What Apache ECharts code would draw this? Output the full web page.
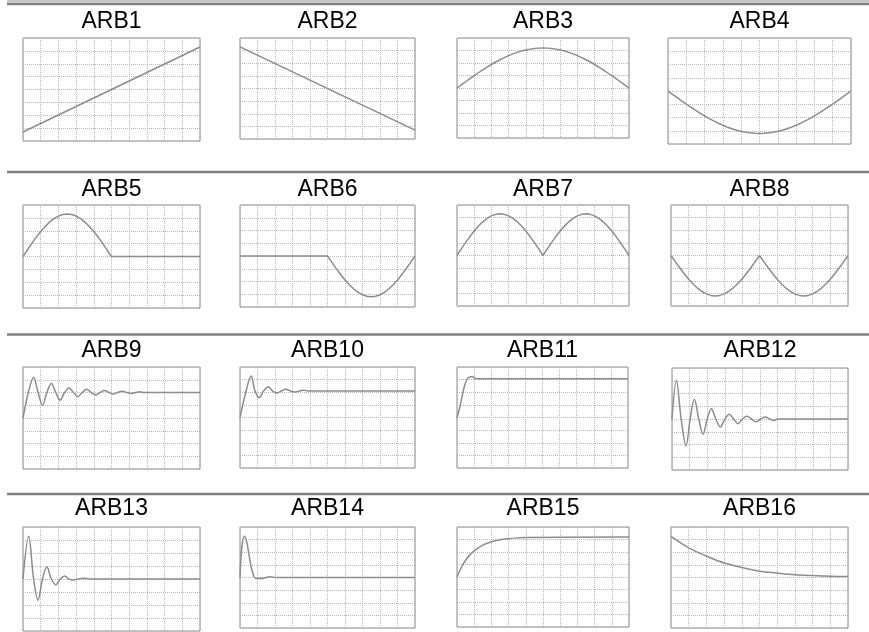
<!DOCTYPE html>
<html>
<head>
<meta charset="utf-8">
<script src="https://cdn.jsdelivr.net/npm/echarts@6/dist/echarts.min.js"></script>
<style>
  html, body { margin: 0; padding: 0; background: #fff; }
  #main { width: 869px; height: 632px; }
</style>
</head>
<body>
<div id="main"></div>
<script>
// waveform names, in table order
const names = ['ARB1', 'ARB2', 'ARB3', 'ARB4', 'ARB5', 'ARB6', 'ARB7', 'ARB8',
  'ARB9', 'ARB10', 'ARB11', 'ARB12', 'ARB13', 'ARB14', 'ARB15', 'ARB16'];

// x in grid divisions (0..10), y in divisions (-4..4)
const xRamp = [0, 10];
const arb1 = [-3.3, 3.3];
const arb2 = [3.3, -3.3];

const xQuarter = [0, 0.25, 0.5, 0.75, 1, 1.25, 1.5, 1.75, 2, 2.25, 2.5, 2.75, 3, 3.25, 3.5, 3.75, 4, 4.25, 4.5, 4.75,
  5, 5.25, 5.5, 5.75, 6, 6.25, 6.5, 6.75, 7, 7.25, 7.5, 7.75, 8, 8.25, 8.5, 8.75, 9, 9.25, 9.5, 9.75, 10];
const arb3 = [0, 0.25, 0.50, 0.75, 0.99, 1.22, 1.45, 1.67, 1.88, 2.08, 2.26, 2.43, 2.59, 2.73, 2.85, 2.96, 3.04, 3.11, 3.16, 3.19,
  3.20, 3.19, 3.16, 3.11, 3.04, 2.96, 2.85, 2.73, 2.59, 2.43, 2.26, 2.08, 1.88, 1.67, 1.45, 1.22, 0.99, 0.75, 0.50, 0.25, 0];
const arb4 = [0, -0.25, -0.50, -0.75, -0.99, -1.22, -1.45, -1.67, -1.88, -2.08, -2.26, -2.43, -2.59, -2.73, -2.85, -2.96, -3.04, -3.11, -3.16, -3.19,
  -3.20, -3.19, -3.16, -3.11, -3.04, -2.96, -2.85, -2.73, -2.59, -2.43, -2.26, -2.08, -1.88, -1.67, -1.45, -1.22, -0.99, -0.75, -0.50, -0.25, 0];
const arb5 = [0, 0.52, 1.02, 1.50, 1.94, 2.33, 2.67, 2.94, 3.14, 3.26, 3.30, 3.26, 3.14, 2.94, 2.67, 2.33, 1.94, 1.50, 1.02, 0.52,
  0, 0, 0, 0, 0, 0, 0, 0, 0, 0, 0, 0, 0, 0, 0, 0, 0, 0, 0, 0, 0];
const arb6 = [0, 0, 0, 0, 0, 0, 0, 0, 0, 0, 0, 0, 0, 0, 0, 0, 0, 0, 0, 0,
  0, -0.50, -0.99, -1.45, -1.88, -2.26, -2.59, -2.85, -3.04, -3.16, -3.20, -3.16, -3.04, -2.85, -2.59, -2.26, -1.88, -1.45, -0.99, -0.50, 0];
const arb7 = [0, 0.52, 1.02, 1.50, 1.94, 2.33, 2.67, 2.94, 3.14, 3.26, 3.30, 3.26, 3.14, 2.94, 2.67, 2.33, 1.94, 1.50, 1.02, 0.52,
  0, 0.52, 1.02, 1.50, 1.94, 2.33, 2.67, 2.94, 3.14, 3.26, 3.30, 3.26, 3.14, 2.94, 2.67, 2.33, 1.94, 1.50, 1.02, 0.52, 0];
const arb8 = [0, -0.50, -0.99, -1.45, -1.88, -2.26, -2.59, -2.85, -3.04, -3.16, -3.20, -3.16, -3.04, -2.85, -2.59, -2.26, -1.88, -1.45, -0.99, -0.50,
  0, -0.50, -0.99, -1.45, -1.88, -2.26, -2.59, -2.85, -3.04, -3.16, -3.20, -3.16, -3.04, -2.85, -2.59, -2.26, -1.88, -1.45, -0.99, -0.50, 0];

const arb9X = [0, 0.3, 0.6, 0.85, 1.1, 1.35, 1.6, 1.85, 2.1, 2.35, 2.6, 2.85, 3.1, 3.35, 3.6, 3.85, 4.1, 4.35, 4.6, 4.85,
  5.1, 5.35, 5.6, 5.85, 6.1, 6.35, 6.6, 6.85, 10];
const arb9Y = [0, 2.0, 3.2, 2.0, 1.0, 2.0, 2.7, 2.0, 1.4, 2.0, 2.35, 2.0, 1.68, 2.0, 2.25, 2.0, 1.8, 2.0, 2.15, 2.0,
  1.88, 2.0, 2.1, 2.0, 1.93, 2.0, 2.05, 2.0, 2.0];
const arb10X = [0, 0.35, 0.63, 0.86, 1.09, 1.35, 1.62, 1.86, 2.1, 2.36, 2.63, 2.88, 3.12, 3.38, 3.63, 3.9, 10];
const arb10Y = [0, 2.1, 3.28, 2.1, 1.57, 2.1, 2.44, 2.1, 1.93, 2.1, 2.24, 2.1, 2.02, 2.1, 2.16, 2.1, 2.1];
const arb11X = [0, 0.12, 0.25, 0.45, 0.64, 0.9, 1.13, 10];
const arb11Y = [0, 0.57, 1.36, 2.55, 3.13, 3.24, 3.07, 3.07];
const arb12X = [0, 0.25, 0.52, 0.8, 1.03, 1.27, 1.52, 1.76, 2.0, 2.23, 2.49, 2.75, 3.0, 3.26, 3.5, 3.75, 4.0, 4.26, 4.52, 4.77,
  5.03, 5.3, 5.55, 5.78, 6.0, 10];
const arb12Y = [0, 3.03, 0, -2.12, 0, 1.54, 0, -1.2, 0, 0.81, 0, -0.63, 0, 0.37, 0, -0.37, 0, 0.21, 0, -0.22,
  0, 0.16, 0, -0.12, 0, 0];
const arb13X = [0, 0.32, 0.6, 0.85, 1.1, 1.35, 1.6, 1.86, 2.1, 2.35, 2.58, 2.82, 3.1, 3.4, 3.8, 10];
const arb13Y = [0, 3.28, 0, -1.64, 0, 0.92, 0, -0.44, 0, 0.23, 0, -0.08, 0, 0.06, 0, 0];
const arb14X = [0, 0.11, 0.25, 0.38, 0.53, 0.7, 0.91, 1.2, 1.7, 2.1, 10];
const arb14Y = [0, 2.46, 3.26, 2.86, 1.67, 0.47, -0.07, -0.08, 0.05, 0, 0];
const arb15X = [0, 0.25, 0.5, 0.75, 1, 1.5, 2, 2.5, 3, 3.5, 4, 10];
const arb15Y = [0, 0.76, 1.34, 1.77, 2.1, 2.55, 2.82, 2.98, 3.07, 3.13, 3.17, 3.2];
const arb16X = [0, 1, 2, 3, 4, 5, 6, 7, 8, 9, 10];
const arb16Y = [3.25, 2.35, 1.7, 1.15, 0.8, 0.5, 0.35, 0.22, 0.15, 0.1, 0.08];

// [x values, y values, smooth]
const waves = [
  [xRamp, arb1, false], [xRamp, arb2, false], [xQuarter, arb3, false], [xQuarter, arb4, false],
  [xQuarter, arb5, false], [xQuarter, arb6, false], [xQuarter, arb7, false], [xQuarter, arb8, false],
  [arb9X, arb9Y, true], [arb10X, arb10Y, true], [arb11X, arb11Y, true], [arb12X, arb12Y, true],
  [arb13X, arb13Y, true], [arb14X, arb14Y, true], [arb15X, arb15Y, true], [arb16X, arb16Y, true]
];

// plot boxes: left, top, width, height (px)
const boxes = [
  [23, 38, 177, 103], [240, 38, 175, 101], [457, 38, 172, 100], [668, 38, 183, 106],
  [23, 205, 177, 103], [240, 205, 175, 102], [457, 205, 172, 101], [671, 205, 177, 101],
  [23, 367, 177, 102], [240, 367, 175, 101], [457, 367, 171, 101], [672, 368, 176, 102],
  [23, 527, 177, 104], [240, 527, 175, 101], [457, 527, 172, 100], [671, 527, 177, 101]
];
const titleY = [21.5, 189.5, 350.5, 508.5];
const sepY = [172, 334.5, 494];

const gridLine = { show: true, lineStyle: { color: '#b8b8b8', type: [1, 1], width: 1 } };

const grids = [], xAxes = [], yAxes = [], series = [], graphic = [];
boxes.forEach((b, i) => {
  grids.push({ left: b[0], top: b[1], width: b[2], height: b[3], show: true,
    borderColor: '#8a8a8a', borderWidth: 1, backgroundColor: 'transparent' });
  xAxes.push({ type: 'value', gridIndex: i, min: 0, max: 10, interval: 1,
    axisLine: { show: false }, axisTick: { show: false }, axisLabel: { show: false }, splitLine: gridLine });
  yAxes.push({ type: 'value', gridIndex: i, min: -4, max: 4, interval: 1,
    axisLine: { show: false }, axisTick: { show: false }, axisLabel: { show: false }, splitLine: gridLine });
  const w = waves[i];
  series.push({
    type: 'line', xAxisIndex: i, yAxisIndex: i, showSymbol: false, symbol: 'none',
    smooth: w[2] ? 0.35 : false,
    data: w[0].map((x, k) => [x, w[1][k]]),
    lineStyle: { color: '#8c8c8c', width: 1.5 }
  });
  graphic.push({
    type: 'text', x: b[0] + b[2] / 2, y: titleY[Math.floor(i / 4)],
    style: { text: names[i], font: '23px "Liberation Sans", Arial, sans-serif', fill: '#000',
      align: 'center', verticalAlign: 'middle', textAlign: 'center', textVerticalAlign: 'middle' }
  });
});

// table rules
graphic.push({ type: 'rect', shape: { x: 7, y: 0, width: 862, height: 3 }, style: { fill: '#c8c8c8' } });
graphic.push({ type: 'rect', shape: { x: 7, y: 3, width: 862, height: 2.3 }, style: { fill: '#808080' } });
sepY.forEach(y => {
  graphic.push({ type: 'line', shape: { x1: 7, y1: y, x2: 869, y2: y }, style: { stroke: '#808080', lineWidth: 2.5 } });
});

const chart = echarts.init(document.getElementById('main'));
chart.setOption({
  animation: false,
  backgroundColor: '#fff',
  grid: grids,
  xAxis: xAxes,
  yAxis: yAxes,
  series: series,
  graphic: graphic
});
</script>
</body>
</html>
